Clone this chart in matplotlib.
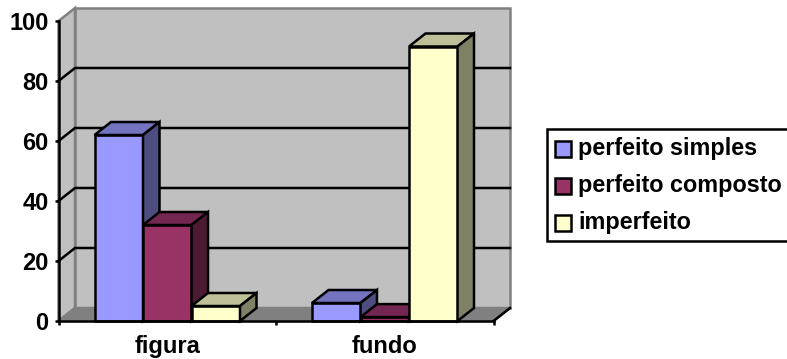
import matplotlib
matplotlib.use("Agg")
import matplotlib.pyplot as plt
from matplotlib.patches import Polygon, Rectangle

plt.rcParams['font.family'] = ['Liberation Sans', 'DejaVu Sans']
plt.rcParams['font.weight'] = 'bold'

categories = ['figura', 'fundo']
series_names = ['perfeito simples', 'perfeito composto', 'imperfeito']
perfeito_simples = [62, 6]
perfeito_composto = [32, 1.3]
imperfeito = [5, 91.5]
y_ticks = [0, 20, 40, 60, 80, 100]

# front, top and side shades of each series
face_colors = ['#9999FF', '#993366', '#FFFFCC']
top_colors = ['#7373BF', '#732650', '#BFBF99']
side_colors = ['#4D4D80', '#4D1A33', '#808066']

W, H = 787, 359
LW = 1.8

fig = plt.figure(figsize=(W / 100, H / 100), dpi=100)
fig.patch.set_facecolor('white')
# the axes rectangle is the front plane of the 3D box
ax = fig.add_axes([58.5 / W, 1 - 321 / H, 435 / W, 300 / H])
ax.set_xlim(0, len(categories))
ax.set_ylim(0, 100)
ax.patch.set_visible(False)

# depth of the box in data units
DX = 16.5 / 217.5
DY = 13 / 3.0


def poly(pts, fc, ec, lw=LW, z=2):
    ax.add_patch(Polygon(pts, closed=True, facecolor=fc, edgecolor=ec, linewidth=lw,
                         joinstyle='miter', clip_on=False, zorder=z))


# walls and floor
poly([(0, 0), (DX, DY), (DX, 100 + DY), (0, 100)], '#C0C0C0', '#808080', z=1)
poly([(DX, DY), (2 + DX, DY), (2 + DX, 100 + DY), (DX, 100 + DY)], '#C0C0C0', '#808080', z=1)
poly([(0, 0), (2, 0), (2 + DX, DY), (DX, DY)], '#808080', '#808080', z=1)
ax.plot([2, 2 + DX], [0, DY], color='black', lw=LW, clip_on=False, zorder=1.5)

# gridlines run along the left wall and the back wall
for t in y_ticks[1:-1]:
    ax.plot([0, DX, 2 + DX], [t, t + DY, t + DY], color='black', lw=LW,
            clip_on=False, zorder=1.5)

bar_w = 48.5 / 217.5
gap = (1 - 3 * bar_w) / 2
all_series = [perfeito_simples, perfeito_composto, imperfeito]

for c in range(len(categories)):
    for s, values in enumerate(all_series):
        v = values[c]
        x0 = c + gap + s * bar_w
        x1 = x0 + bar_w
        poly([(x0, 0), (x1, 0), (x1, v), (x0, v)], face_colors[s], 'black', z=3)
        poly([(x0, v), (x1, v), (x1 + DX, v + DY), (x0 + DX, v + DY)], top_colors[s], 'black', z=3)
        poly([(x1, 0), (x1 + DX, DY), (x1 + DX, v + DY), (x1, v)], side_colors[s], 'black', z=3)

# axes
for name in ['top', 'right']:
    ax.spines[name].set_visible(False)
for name in ['left', 'bottom']:
    ax.spines[name].set_linewidth(LW)
    ax.spines[name].set_zorder(4)
ax.set_yticks(y_ticks)
ax.set_xticks(range(len(categories) + 1))
ax.set_xticklabels([])
ax.set_xticks([i + 0.5 for i in range(len(categories))], categories, minor=True)
ax.tick_params(axis='y', length=3.2, width=LW, labelsize=17, pad=4)
ax.tick_params(axis='x', which='major', length=3.2, width=LW)
ax.tick_params(axis='x', which='minor', length=0, labelsize=17, pad=10)


def px(x, y):
    return x / W, 1 - y / H


# legend, its box runs past the right edge of the figure
fig.add_artist(Rectangle(px(547, 241), 245 / W, 112 / H, transform=fig.transFigure,
                         facecolor='white', edgecolor='black', linewidth=LW))
legend_y = [148.5, 186, 223]
for name, color, ly in zip(series_names, face_colors, legend_y):
    fig.add_artist(Rectangle(px(555, ly + 8), 16 / W, 16 / H, transform=fig.transFigure,
                             facecolor=color, edgecolor='black', linewidth=LW))
    x_t, y_t = px(578, ly)
    fig.text(x_t, y_t, name, fontsize=16.8, fontweight='bold', va='center', ha='left')

fig.savefig('out.png', dpi=100)
